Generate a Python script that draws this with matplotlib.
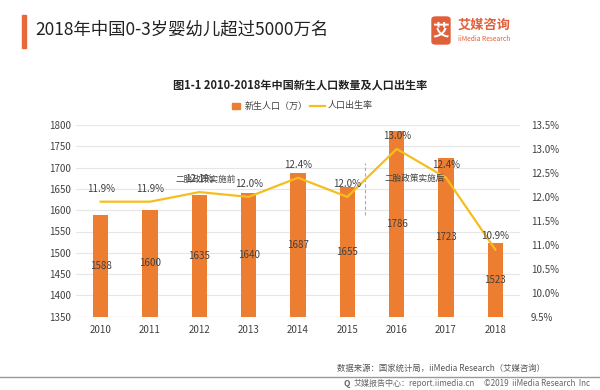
import matplotlib.pyplot as plt
from matplotlib.patches import FancyBboxPatch, Rectangle
from matplotlib.lines import Line2D

plt.rcParams['font.family'] = ['Noto Sans CJK SC', 'DejaVu Sans']

years = ['2010', '2011', '2012', '2013', '2014', '2015', '2016', '2017', '2018']
births = [1588, 1600, 1635, 1640, 1687, 1655, 1786, 1723, 1523]
rate = [11.9, 11.9, 12.1, 12.0, 12.4, 12.0, 13.0, 12.4, 10.9]
left_ticks = [1350, 1400, 1450, 1500, 1550, 1600, 1650, 1700, 1750, 1800]
right_ticks = [9.5, 10.0, 10.5, 11.0, 11.5, 12.0, 12.5, 13.0, 13.5]

bar_color = '#ED7D31'
line_color = '#F5BE1E'
txt = '#404040'

fig = plt.figure(figsize=(6, 3.9), dpi=100)
fig.patch.set_facecolor('white')

# header
fig.add_artist(Rectangle((22 / 600, 1 - 48 / 390), 3.5 / 600, 33 / 390,
                         transform=fig.transFigure, color='#E8683A'))
fig.text(35 / 600, 1 - 30 / 390, '2018年中国0-3岁婴幼儿超过5000万名',
         fontsize=12.5, color='#222222', va='center', ha='left')
fig.add_artist(FancyBboxPatch((432 / 600, 1 - 44 / 390), 18 / 600, 27 / 390,
                              boxstyle='round,pad=0,rounding_size=0.006',
                              transform=fig.transFigure, color='#E0603A'))
fig.text(441 / 600, 1 - 30 / 390, '艾', fontsize=12, color='white',
         ha='center', va='center', fontweight='bold')
fig.text(458 / 600, 1 - 25 / 390, '艾媒咨询', fontsize=9.5, color='#E0603A',
         ha='left', va='center', fontweight='bold')
fig.text(458 / 600, 1 - 39 / 390, 'iiMedia Research', fontsize=4.8,
         color='#E0603A', ha='left', va='center')

ax = fig.add_axes([76 / 600, 1 - 316.7 / 390, 444 / 600, 191.7 / 390])
x = list(range(len(years)))
ax.bar(x, births, width=0.31, color=bar_color, zorder=2)
ax.set_ylim(1350, 1800)
ax.set_xlim(-0.5, 8.5)
ax.set_yticks(left_ticks)
ax.set_xticks(x)
ax.set_xticklabels(years)
ax.grid(axis='y', color='#E6E6E6', linewidth=0.8, zorder=0)
ax.tick_params(axis='both', length=0, labelsize=7, colors=txt)
ax.tick_params(axis='x', pad=6)
for s in ax.spines.values():
    s.set_visible(False)
ax.axhline(1350, color='#D9D9D9', linewidth=0.8, zorder=1)

for xi, b in zip(x, births):
    ax.text(xi, (1350 + b) / 2, str(b), ha='center', va='center',
            fontsize=7, color=txt, zorder=4)

ax2 = ax.twinx()
ax2.plot(x, rate, color=line_color, linewidth=1.6, zorder=3)
ax2.set_ylim(9.5, 13.5)
ax2.set_yticks(right_ticks)
ax2.set_yticklabels(['%.1f%%' % t for t in right_ticks])
ax2.tick_params(axis='y', length=0, labelsize=7, colors=txt, pad=8)
for s in ax2.spines.values():
    s.set_visible(False)
for xi, r in zip(x, rate):
    ax2.text(xi, r + 0.17, '%.1f%%' % r, ha='center', va='bottom',
             fontsize=7, color=txt)

# policy annotations
ax2.text(2.12, 12.27, '二胎政策实施前', ha='center', va='bottom', fontsize=6.2, color=txt)
ax2.text(6.37, 12.3, '二胎政策实施后', ha='center', va='bottom', fontsize=6.2, color=txt)
ax2.plot([5.35, 5.35], [11.62, 12.7], color='#C9A37A', linewidth=0.8,
         linestyle=(0, (3, 2)))

# chart title and legend
fig.text(300 / 600, 1 - 85 / 390, '图1-1 2010-2018年中国新生人口数量及人口出生率',
         ha='center', va='center', fontsize=8, fontweight='bold', color='#222222')
fig.add_artist(Rectangle((232 / 600, 1 - 109 / 390), 8 / 600, 6 / 390,
                         transform=fig.transFigure, color=bar_color))
fig.text(245 / 600, 1 - 106 / 390, '新生人口（万）', fontsize=6.5, color=txt,
         ha='left', va='center')
fig.add_artist(Line2D([310 / 600, 325 / 600], [1 - 106 / 390, 1 - 106 / 390],
                      transform=fig.transFigure, color=line_color, linewidth=1.6))
fig.text(328 / 600, 1 - 106 / 390, '人口出生率', fontsize=6.5, color=txt,
         ha='left', va='center')

# footer
fig.text(545 / 600, 1 - 368 / 390, '数据来源：国家统计局，iiMedia Research（艾媒咨询）',
         ha='right', va='center', fontsize=6, color='#555555')
fig.add_artist(Line2D([0, 1], [1 - 376.5 / 390, 1 - 376.5 / 390],
                      transform=fig.transFigure, color='#999999', linewidth=1))
fig.text(354 / 600, 1 - 383.5 / 390, '艾媒报告中心：report.iimedia.cn',
         ha='left', va='center', fontsize=5.8, color='#666666')
fig.text(590 / 600, 1 - 383.5 / 390, '©2019  iiMedia Research  Inc',
         ha='right', va='center', fontsize=5.8, color='#666666')
fig.text(347 / 600, 1 - 383.5 / 390, 'Q', ha='center', va='center',
         fontsize=6, color='#666666', fontweight='bold')

fig.savefig('out.png', dpi=100)
